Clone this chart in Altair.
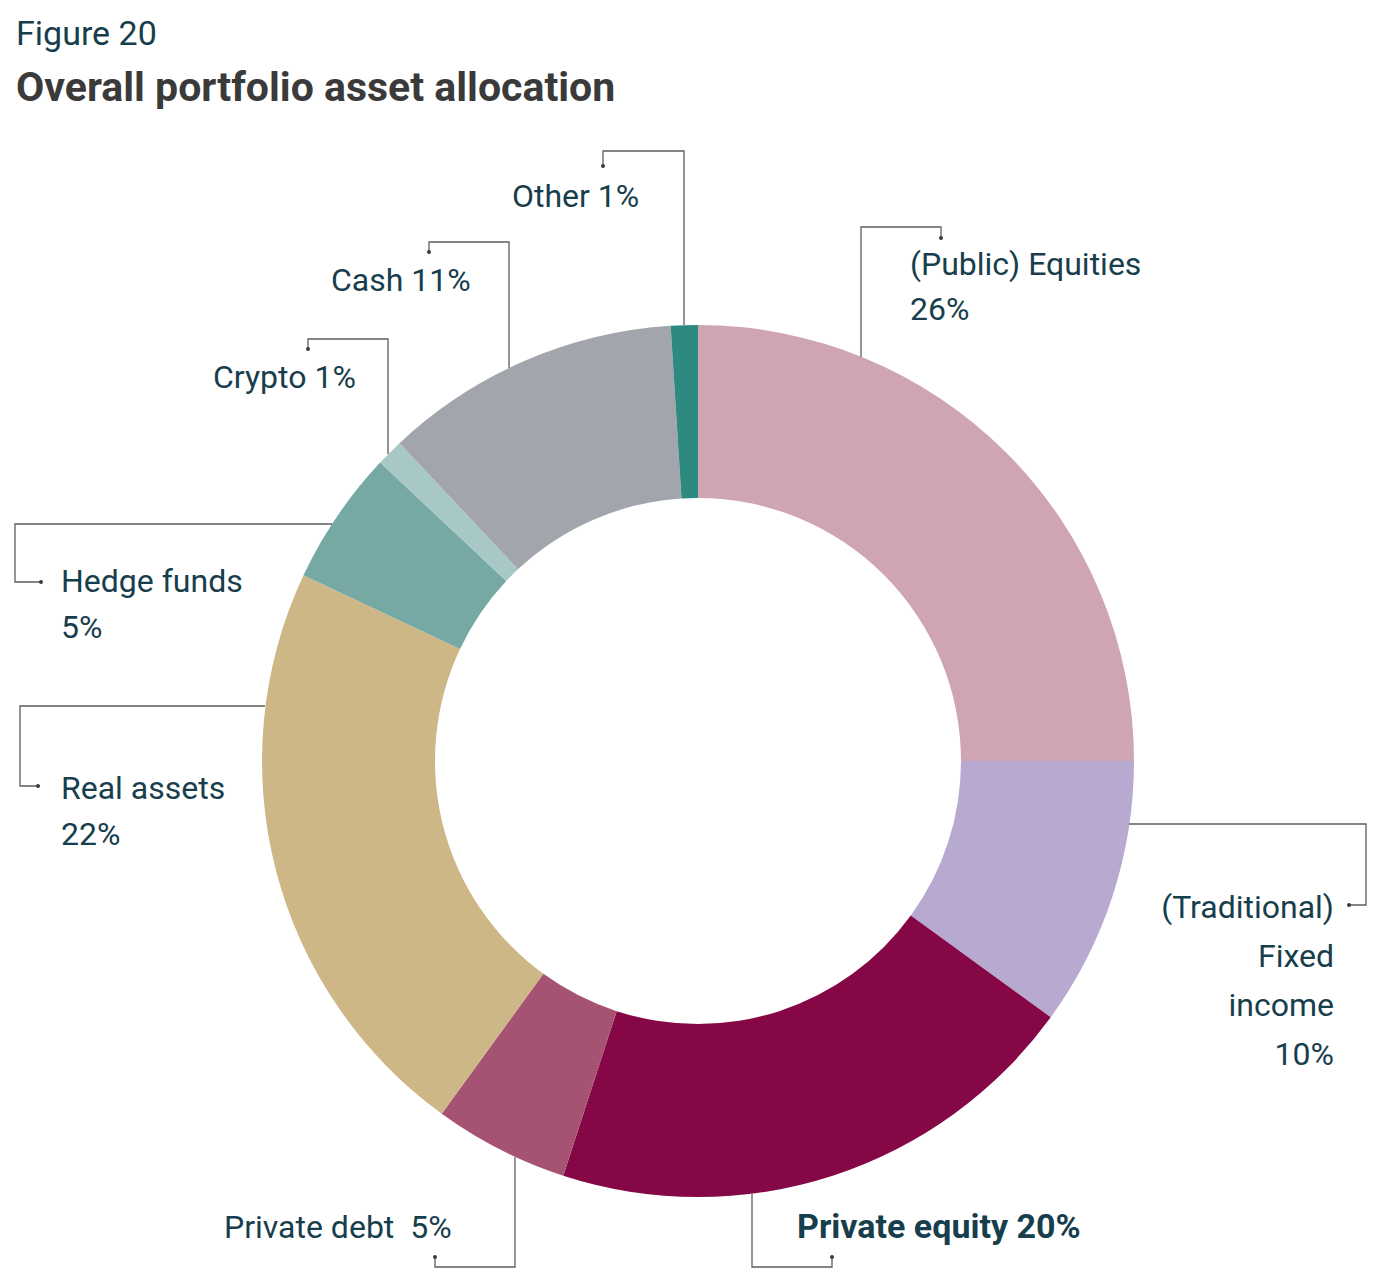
import altair as alt
import pandas as pd

# ---- data ----
categories = ["(Public) Equities", "(Traditional) Fixed income", "Private equity",
              "Private debt", "Real assets", "Hedge funds", "Crypto", "Cash", "Other"]
shares = [25, 10, 20, 5, 22, 5, 1, 11, 1]          # slice sizes as drawn
pct_labels = ["26%", "10%", "20%", "5%", "22%", "5%", "1%", "11%", "1%"]
colors = ["#CFA5B4", "#B8A9D0", "#850745", "#A65273", "#CDB787",
          "#76A9A4", "#A7C8C6", "#A2A6AC", "#2E8A80"]

# label text lines per category
label_lines = [
    ["(Public) Equities", pct_labels[0]],
    ["(Traditional)", "Fixed", "income", pct_labels[1]],
    ["Private equity " + pct_labels[2]],
    ["Private debt\u00a0\u00a0" + pct_labels[3]],
    ["Real assets", pct_labels[4]],
    ["Hedge funds", pct_labels[5]],
    ["Crypto " + pct_labels[6]],
    ["Cash " + pct_labels[7]],
    ["Other " + pct_labels[8]],
]

# ---- layout (page pixel coordinates) ----
CX, CY, R_OUT, R_IN = 698, 761, 436, 263
label_pos = [  # x, first baseline, line step, align, weight
    (910, 275, 45, "left", "normal"),
    (1334, 918, 49, "right", "normal"),
    (797, 1238, 0, "left", "bold"),
    (224, 1238, 0, "left", "normal"),
    (61, 799, 46, "left", "normal"),
    (61, 592, 46, "left", "normal"),
    (213, 388, 0, "left", "normal"),
    (331, 291, 0, "left", "normal"),
    (512, 207, 0, "left", "normal"),
]
leaders = [
    [(861, 357), (861, 227), (941, 227), (941, 238)],
    [(1129, 824), (1366, 824), (1366, 905), (1349, 905)],
    [(752, 1194), (752, 1267), (832, 1267), (832, 1257)],
    [(515, 1157), (515, 1267), (435, 1267), (435, 1257)],
    [(265, 706), (20, 706), (20, 786), (38, 786)],
    [(332, 524), (15, 524), (15, 582), (41, 582)],
    [(388, 454), (388, 339), (308, 339), (308, 349)],
    [(509, 368), (509, 242), (429, 242), (429, 252)],
    [(684, 325), (684, 151), (603, 151), (603, 166)],
]

slices = pd.DataFrame({"cat": categories, "share": shares, "idx": range(len(categories))})

trows = []
for i, lines in enumerate(label_lines):
    x, y0, step, align, weight = label_pos[i]
    for j, t in enumerate(lines):
        trows.append({"x": x, "y": y0 + j * step, "text": t, "align": align, "weight": weight})
trows.append({"x": 16, "y": 45, "text": "Figure 20", "align": "title1", "weight": "normal"})
trows.append({"x": 16, "y": 101, "text": "Overall portfolio asset allocation", "align": "title2", "weight": "bold"})
texts = pd.DataFrame(trows)

lrows = []
for i, pts in enumerate(leaders):
    for j, (x, y) in enumerate(pts):
        lrows.append({"lead": i, "seq": j, "x": x, "y": y, "end": j == len(pts) - 1})
lines_df = pd.DataFrame(lrows)

xs = alt.Scale(domain=[8, 1368], nice=False, zero=False)
ys = alt.Scale(domain=[8, 1271], reverse=True, nice=False, zero=False)
X = alt.X("x:Q", scale=xs, axis=None)
Y = alt.Y("y:Q", scale=ys, axis=None)

arc = alt.Chart(slices).mark_arc(outerRadius=R_OUT, innerRadius=R_IN).encode(
    theta=alt.Theta("share:Q", stack=True),
    order=alt.Order("idx:Q"),
    color=alt.Color("cat:N", scale=alt.Scale(domain=categories, range=colors), legend=None),
    x=alt.XDatum(CX, type="quantitative", scale=xs, axis=None),
    y=alt.YDatum(CY, type="quantitative", scale=ys, axis=None),
)

lead = alt.Chart(lines_df).mark_line(color="#5E5E5E", strokeWidth=1.3).encode(
    x=X, y=Y, detail="lead:N", order="seq:Q")
dots = alt.Chart(lines_df).transform_filter("datum.end").mark_circle(
    size=16, color="#3A3A3A", opacity=1).encode(x=X, y=Y)

FONT = "Roboto"
TEAL = "#173E4C"
base_t = alt.Chart(texts)
t_left = base_t.transform_filter("datum.align == 'left' && datum.weight == 'normal'").mark_text(
    align="left", baseline="alphabetic", font=FONT, fontSize=32, color=TEAL).encode(x=X, y=Y, text="text:N")
t_right = base_t.transform_filter("datum.align == 'right'").mark_text(
    align="right", baseline="alphabetic", font=FONT, fontSize=32, color=TEAL).encode(x=X, y=Y, text="text:N")
t_bold = base_t.transform_filter("datum.align == 'left' && datum.weight == 'bold'").mark_text(
    align="left", baseline="alphabetic", font=FONT, fontSize=34, fontWeight="bold", color=TEAL).encode(x=X, y=Y, text="text:N")
t_fig = base_t.transform_filter("datum.align == 'title1'").mark_text(
    align="left", baseline="alphabetic", font=FONT, fontSize=34, color=TEAL).encode(x=X, y=Y, text="text:N")
t_title = base_t.transform_filter("datum.align == 'title2'").mark_text(
    align="left", baseline="alphabetic", font=FONT, fontSize=41, fontWeight="bold", color="#3A3A3A").encode(x=X, y=Y, text="text:N")

chart = alt.layer(arc, lead, dots, t_left, t_right, t_bold, t_fig, t_title).properties(
    width=1360, height=1263, padding=0, autosize=alt.AutoSizeParams(type="none"),
    background="white",
).configure_view(strokeWidth=0)

chart.save("out.html", embed_options={"renderer": "svg", "actions": False})
